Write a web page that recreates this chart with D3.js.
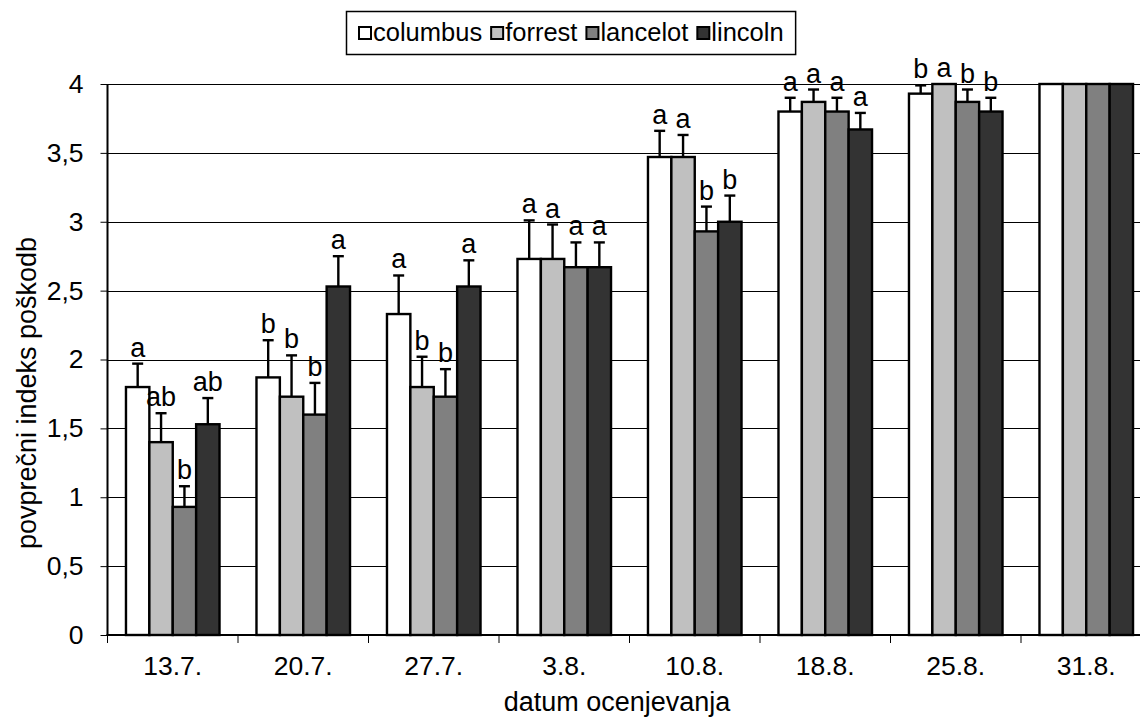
<!DOCTYPE html>
<html>
<head>
<meta charset="utf-8">
<script src="https://cdn.jsdelivr.net/npm/d3@7"></script>
<style>
  html, body { margin: 0; padding: 0; background: #fff; }
  svg { display: block; font-family: "Liberation Sans", Arial, sans-serif; }
</style>
</head>
<body>
<svg id="chart" width="1140" height="717"></svg>
<script>
// Assessment dates (x categories) and cultivar series
const dates = ["13.7.", "20.7.", "27.7.", "3.8.", "10.8.", "18.8.", "25.8.", "31.8."];
const cultivars = ["columbus", "forrest", "lancelot", "lincoln"];

// Mean damage index per cultivar and date
const columbus = [1.80, 1.87, 2.33, 2.73, 3.47, 3.80, 3.93, 4.00];
const forrest  = [1.40, 1.73, 1.80, 2.73, 3.47, 3.87, 4.00, 4.00];
const lancelot = [0.93, 1.60, 1.73, 2.67, 2.93, 3.80, 3.87, 4.00];
const lincoln  = [1.53, 2.53, 2.53, 2.67, 3.00, 3.67, 3.80, 4.00];

// Standard errors (upper whisker)
const columbusErr = [0.17, 0.27, 0.28, 0.28, 0.19, 0.10, 0.06, 0];
const forrestErr  = [0.21, 0.30, 0.22, 0.25, 0.16, 0.09, 0,    0];
const lancelotErr = [0.15, 0.23, 0.20, 0.18, 0.18, 0.10, 0.09, 0];
const lincolnErr  = [0.19, 0.22, 0.19, 0.18, 0.19, 0.12, 0.10, 0];

// Significance letters
const columbusSig = ["a", "b", "a", "a", "a", "a", "b", ""];
const forrestSig  = ["ab", "b", "b", "a", "a", "a", "a", ""];
const lancelotSig = ["b", "b", "b", "a", "b", "a", "b", ""];
const lincolnSig  = ["ab", "a", "a", "a", "b", "a", "b", ""];

// Y axis ticks
const yTicks = [0, 0.5, 1, 1.5, 2, 2.5, 3, 3.5, 4];

const fills = ["#ffffff", "#c0c0c0", "#808080", "#333333"];
const means = [columbus, forrest, lancelot, lincoln];
const errs = [columbusErr, forrestErr, lancelotErr, lincolnErr];
const sigs = [columbusSig, forrestSig, lancelotSig, lincolnSig];

const rows = [];
dates.forEach((d, i) => {
  cultivars.forEach((c, k) => {
    rows.push({ date: d, cultivar: c, k, value: means[k][i], err: errs[k][i], sig: sigs[k][i] });
  });
});

const FONT = "'Liberation Sans', Arial, sans-serif";
const svg = d3.select("#chart");
const plotLeft = 107.5, plotRight = 1151.5, plotTop = 84, plotBottom = 635;

const x0 = d3.scaleBand().domain(dates).range([plotLeft, plotRight]).padding(0);
const x1 = d3.scaleBand().domain(cultivars).range([0, x0.bandwidth()])
  .paddingInner(0).paddingOuter(0.79);
const y = d3.scaleLinear().domain([0, 4]).range([plotBottom, plotTop]);

// Horizontal gridlines
svg.append("g")
  .selectAll("line")
  .data(yTicks.filter(t => t > 0))
  .join("line")
  .attr("x1", plotLeft).attr("x2", plotRight)
  .attr("y1", d => Math.round(y(d)) + 0.5).attr("y2", d => Math.round(y(d)) + 0.5)
  .attr("stroke", "#000").attr("stroke-width", 1);

// Y axis
const yAxis = d3.axisLeft(y).tickValues(yTicks).tickSize(7).tickPadding(17)
  .tickFormat(d => String(d).replace(".", ","));
const gy = svg.append("g").attr("transform", `translate(${plotLeft},0)`).call(yAxis);
gy.select(".domain").attr("stroke", "#000").attr("stroke-width", 2)
  .attr("d", `M0,${plotTop}V${plotBottom}`);
gy.selectAll(".tick line").attr("stroke", "#000").attr("stroke-width", 1);
gy.selectAll(".tick text").attr("font-size", 26.5).attr("fill", "#000")
  .attr("font-family", FONT);

// Bars
const groups = svg.append("g").selectAll("g")
  .data(dates).join("g")
  .attr("transform", d => `translate(${x0(d)},0)`);

groups.selectAll("rect")
  .data(d => rows.filter(r => r.date === d))
  .join("rect")
  .attr("x", r => x1(r.cultivar))
  .attr("y", r => y(r.value))
  .attr("width", x1.bandwidth())
  .attr("height", r => y(0) - y(r.value))
  .attr("fill", r => fills[r.k])
  .attr("stroke", "#000")
  .attr("stroke-width", 2.4);

// Error whiskers (upper only)
const eg = groups.selectAll("g.err")
  .data(d => rows.filter(r => r.date === d && r.err > 0))
  .join("g").attr("class", "err");
eg.append("line")
  .attr("x1", r => x1(r.cultivar) + x1.bandwidth() / 2)
  .attr("x2", r => x1(r.cultivar) + x1.bandwidth() / 2)
  .attr("y1", r => y(r.value))
  .attr("y2", r => y(r.value + r.err))
  .attr("stroke", "#000").attr("stroke-width", 2.4);
eg.append("line")
  .attr("x1", r => x1(r.cultivar) + x1.bandwidth() / 2 - 5.5)
  .attr("x2", r => x1(r.cultivar) + x1.bandwidth() / 2 + 5.5)
  .attr("y1", r => y(r.value + r.err))
  .attr("y2", r => y(r.value + r.err))
  .attr("stroke", "#000").attr("stroke-width", 2.4);

// Significance letters
groups.selectAll("text.sig")
  .data(d => rows.filter(r => r.date === d && r.sig))
  .join("text").attr("class", "sig")
  .attr("x", r => x1(r.cultivar) + x1.bandwidth() / 2)
  .attr("y", r => y(r.value + r.err) - 7)
  .attr("text-anchor", "middle")
  .attr("font-size", 27)
  .attr("fill", "#000")
  .text(r => r.sig);

// X axis
const xAxis = d3.axisBottom(x0).tickSize(0).tickPadding(0);
const gx = svg.append("g").attr("transform", `translate(0,${plotBottom})`).call(xAxis);
gx.select(".domain").remove();
gx.selectAll(".tick text").attr("font-size", 26.5).attr("fill", "#000")
  .attr("font-family", FONT)
  .attr("dy", 0).attr("y", 40);
svg.append("line")
  .attr("x1", plotLeft - 1).attr("x2", plotRight)
  .attr("y1", plotBottom).attr("y2", plotBottom)
  .attr("stroke", "#000").attr("stroke-width", 2);
// Category separators
svg.append("g").selectAll("line")
  .data(dates.concat(["end"]))
  .join("line")
  .attr("x1", (d, i) => i < dates.length ? x0(d) : plotRight)
  .attr("x2", (d, i) => i < dates.length ? x0(d) : plotRight)
  .attr("y1", plotBottom).attr("y2", plotBottom + 8)
  .attr("stroke", "#000").attr("stroke-width", 1);

// Axis titles
svg.append("text")
  .attr("x", 617).attr("y", 711)
  .attr("text-anchor", "middle").attr("font-size", 27).attr("fill", "#000")
  .text("datum ocenjevanja");
svg.append("text")
  .attr("transform", "translate(36,393) rotate(-90)")
  .attr("text-anchor", "middle").attr("font-size", 27).attr("fill", "#000")
  .text("povprečni indeks poškodb");

// Legend
const legend = svg.append("g");
const legendBox = legend.append("rect")
  .attr("fill", "#fff").attr("stroke", "#000").attr("stroke-width", 1.5);
let lx = 359;
cultivars.forEach((c, k) => {
  legend.append("rect")
    .attr("x", lx).attr("y", 27).attr("width", 12).attr("height", 12)
    .attr("fill", fills[k]).attr("stroke", "#000").attr("stroke-width", 2);
  const t = legend.append("text")
    .attr("x", lx + 14).attr("y", 41)
    .attr("font-size", 25.5).attr("fill", "#000")
    .text(c);
  lx += 14 + t.node().getComputedTextLength() + 9;
});
legendBox.attr("x", 346.5).attr("y", 11.5)
  .attr("width", lx - 346.5 + 3).attr("height", 43);
</script>
</body>
</html>
